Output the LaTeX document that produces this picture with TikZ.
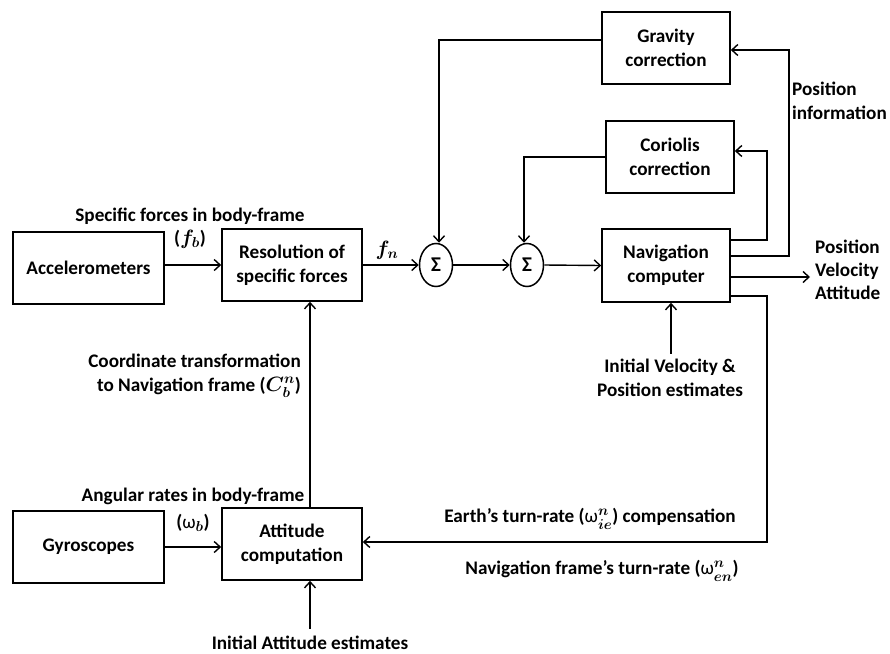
\documentclass[tikz,border=0pt]{standalone}
\usepackage{fontspec}
\setmainfont{Carlito}
\usepackage{amsmath}
\usepackage{bm}
\usetikzlibrary{arrows.meta,shapes.geometric}
\tikzset{
  blk/.style={draw,line width=1.6pt,rectangle,inner sep=0pt,align=center,
    font=\fontsize{19.2}{24}\selectfont\bfseries},
  sumnode/.style={draw,line width=1.5pt,ellipse,inner sep=0pt,minimum width=33pt,minimum height=43pt,
    font=\fontsize{21}{22}\selectfont\bfseries},
  lbl/.style={inner sep=0pt,align=center,font=\fontsize{19.2}{24}\selectfont\bfseries\boldmath},
  conn/.style={line width=1.4pt,-{Straight Barb[length=6pt,width=11pt,line width=1.4pt]}},
}
\newcommand{\om}{{\normalfont\mdseries ω}}
\begin{document}
\begin{tikzpicture}[x=1pt,y=-1pt]
\useasboundingbox (0,0) rectangle (890,653);
% blocks
\node[blk,minimum width=151pt,minimum height=72pt] (acc) at (88.5,268) {Accelerometers};
\node[blk,minimum width=140pt,minimum height=72pt] (res) at (292,265) {Resolution of\\specific forces};
\node[sumnode] (s1) at (436,265) {Σ};
\node[sumnode] (s2) at (527,265) {Σ};
\node[blk,minimum width=128pt,minimum height=73pt] (nav) at (666,265.5) {Navigation\\computer};
\node[blk,minimum width=128pt,minimum height=72pt] (grav) at (666,48) {Gravity\\correction};
\node[blk,minimum width=128pt,minimum height=72pt] (cor) at (670,157) {Coriolis\\correction};
\node[blk,minimum width=151pt,minimum height=72pt] (gyro) at (88.5,547) {Gyroscopes};
\node[blk,minimum width=140pt,minimum height=72pt] (att) at (292,544) {Attitude\\computation};
% helper coordinates
\coordinate (cx) at (310,0);
\coordinate (rA) at (767,0);
\coordinate (rB) at (789,0);
\coordinate (out) at (810,277);
% labels
\node[lbl] (l1) at (190,216) {Specific forces in body-frame};
\node[lbl] (l2) at (190,239) {($\bm{f_b}$)};
\node[lbl] (l3) at (387,250) {$\bm{f_n}$};
\node[lbl,align=right,anchor=east] (l4) at (301,375.5) {Coordinate transformation\\to Navigation frame ($\bm{C_b^n}$)};
\node[lbl] (l5) at (193,496) {Angular rates in body-frame};
\node[lbl] (l6) at (193,523) {(\om$_{\bm b}$)};
\node[lbl] (l7) at (590,519) {Earth’s turn-rate (\om$^{\bm n}_{\bm{ie}}$) compensation};
\node[lbl] (l8) at (602,571) {Navigation frame’s turn-rate (\om$^{\bm n}_{\bm{en}}$)};
\node[lbl,align=left,anchor=west] (pinf) at (792,101) {Position\\information};
\node[lbl,align=left,anchor=west,font=\fontsize{19.2}{23}\selectfont\bfseries] (pva) at (815,270) {Position\\Velocity\\Attitude};
\node[lbl] (ive) at (670,378) {Initial Velocity \&\\Position estimates};
\node[lbl] (iae) at (310,643) {Initial Attitude estimates};
% connectors
\draw[conn] (acc.east |- res.west) -- (res.west);
\draw[conn] (res.east) -- (s1.west);
\draw[conn] (s1.east) -- (s2.west);
\draw[conn] (s2.east) -- (nav.west);
\draw[conn] ([yshift=8pt]grav.west) -| ([xshift=3pt]s1.north);
\draw[conn] (cor.west) -| ([xshift=-3pt]s2.north);
\draw[conn] ([yshift=25.5pt]nav.east) -| ([yshift=6pt]rA |- cor.east) -- ([yshift=6pt]cor.east);
\draw[conn] ([yshift=9.5pt]nav.east) -| ([yshift=-2pt]rB |- grav.east) -- ([yshift=-2pt]grav.east);
\draw[conn] ([yshift=-11.5pt]nav.east) -- (out);
\draw[conn] ([yshift=-30.5pt]nav.east) -| ([yshift=2pt]rA |- att.east) -- ([yshift=2pt]att.east);
\draw[conn] (att.north -| cx) -- (res.south -| cx);
\draw[conn] (gyro.east) -- (gyro.east -| att.west);
\draw[conn] ([yshift=7pt]iae.north -| cx) -- (att.south -| cx);
\draw[conn] ([yshift=5pt]ive.north -| nav.south) ++(5pt,0) -- ([xshift=5pt]nav.south);
\end{tikzpicture}
\end{document}
